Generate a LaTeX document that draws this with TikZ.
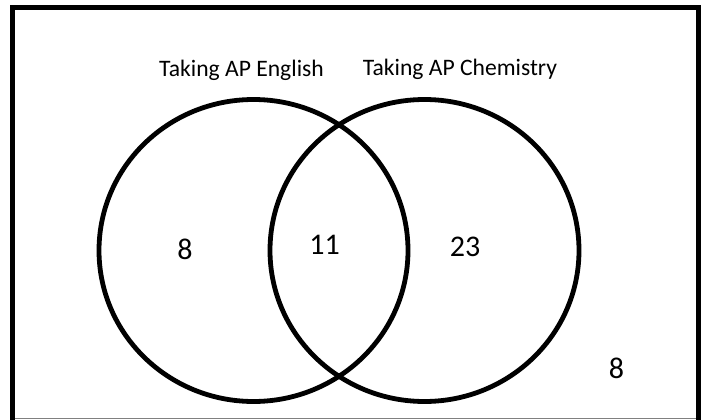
\documentclass[tikz,border=0pt]{standalone}
\usepackage{fontspec}
\setmainfont{Carlito}
\begin{document}
\begin{tikzpicture}[x=1pt,y=-1pt,
  setline/.style={line width=4.8pt, draw=black},
  setlabel/.style={font=\fontsize{23.6}{28}\selectfont, anchor=base, inner sep=0pt},
  count/.style={font=\fontsize{30}{36}\selectfont, inner sep=0pt}]
\useasboundingbox (0,0) rectangle (704,420);
\fill[white] (0,0) rectangle (704,420);
% universe box (bottom edge cropped)
\draw[line width=5pt, line cap=rect] (12.5,425) -- (12.5,7.5) -- (698,7.5) -- (698,425);
\draw[line width=1pt, draw=gray] (15,418.5) -- (695.5,418.5);
% sets
\draw[setline] (253.5,250.5) ellipse [x radius=154.5, y radius=151];
\draw[setline] (424.5,250.5) ellipse [x radius=154.5, y radius=151];
% labels
\node[setlabel] (le) at (241.5,76.5) {Taking AP English};
\node[setlabel] (lc) at (460,76) {Taking AP Chemistry};
\node[count] (onlyE) at (185,249) {8};
\node[count] (both) at (324.5,245) {11};
\node[count] (onlyC) at (465,246.7) {23};
\node[count] (none) at (616.5,368) {8};
\end{tikzpicture}
\end{document}
